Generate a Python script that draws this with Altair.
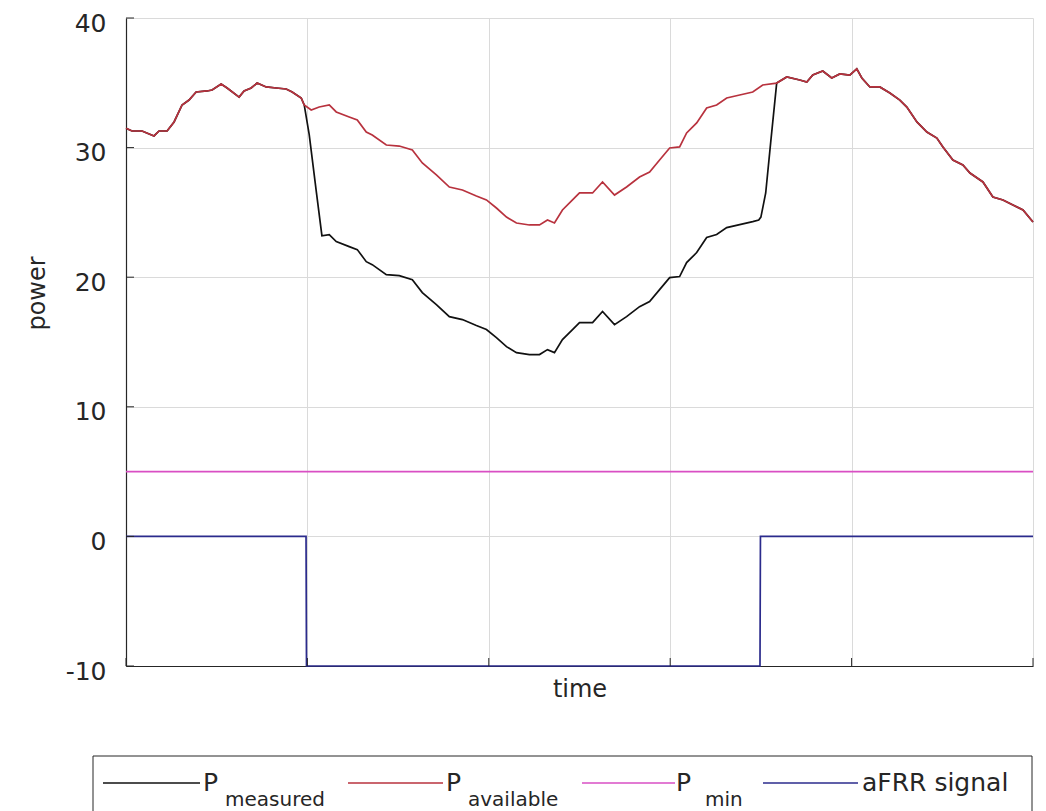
import altair as alt
import pandas as pd

# ---------------- data ----------------
time_avail = [0.0, 0.66, 1.77, 3.09, 3.64, 4.53, 5.30, 6.18, 6.95, 7.73, 8.94, 9.49, 10.49, 11.15,
              12.47, 13.02, 13.80, 14.46, 15.45, 16.56, 17.66, 18.32, 19.32, 19.65, 20.42, 21.30,
              22.41, 23.18, 24.61, 25.50, 26.49, 27.15, 28.70, 30.13, 31.57, 32.67, 34.22, 35.65,
              37.09, 38.63, 39.74, 40.84, 41.95, 43.05, 44.48, 45.59, 46.47, 47.24, 48.12, 49.23,
              50.00, 51.44, 52.54, 53.86, 55.19, 56.62, 57.73, 58.83, 59.94, 61.04, 61.81, 62.92,
              64.02, 65.12, 66.23, 67.66, 69.10, 70.20, 71.74, 72.85, 74.28, 75.06, 75.72, 76.82,
              77.81, 78.70, 79.80, 80.57, 81.13, 82.01, 83.11, 84.22, 85.32, 86.09, 87.20, 88.30,
              89.40, 90.07, 91.17, 92.27, 93.05, 94.48, 95.58, 96.69, 97.79, 98.90, 100.0]
p_available = [31.5, 31.28, 31.28, 30.90, 31.28, 31.28, 31.98, 33.29, 33.67, 34.29, 34.37, 34.44,
               34.91, 34.60, 33.90, 34.37, 34.60, 34.98, 34.68, 34.60, 34.52, 34.29, 33.83, 33.29,
               32.90, 33.13, 33.29, 32.75, 32.36, 32.13, 31.20, 30.97, 30.20, 30.12, 29.81, 28.81,
               27.89, 26.96, 26.73, 26.27, 25.96, 25.34, 24.64, 24.18, 24.03, 24.03, 24.41, 24.18,
               25.19, 25.96, 26.50, 26.50, 27.35, 26.34, 26.96, 27.73, 28.12, 29.04, 29.97, 30.05,
               31.13, 31.90, 33.06, 33.29, 33.83, 34.06, 34.29, 34.83, 34.98, 35.45, 35.22, 35.06,
               35.60, 35.91, 35.37, 35.68, 35.60, 36.07, 35.37, 34.68, 34.68, 34.21, 33.67, 33.13,
               31.98, 31.20, 30.74, 30.05, 29.04, 28.66, 28.04, 27.35, 26.19, 25.96, 25.57, 25.19,
               24.26]

time_meas = [0.0, 0.66, 1.77, 3.09, 3.64, 4.53, 5.30, 6.18, 6.95, 7.73, 8.94, 9.49, 10.49, 11.15,
             12.47, 13.02, 13.80, 14.46, 15.45, 16.56, 17.66, 18.32, 19.32, 19.65, 20.2, 21.0, 21.6,
             22.41, 23.18, 24.61, 25.50, 26.49, 27.15, 28.70, 30.13, 31.57, 32.67, 34.22, 35.65,
             37.09, 38.63, 39.74, 40.84, 41.95, 43.05, 44.48, 45.59, 46.47, 47.24, 48.12, 49.23,
             50.00, 51.44, 52.54, 53.86, 55.19, 56.62, 57.73, 58.83, 59.94, 61.04, 61.81, 62.92,
             64.02, 65.12, 66.23, 67.66, 69.10, 69.76, 70.0, 70.53, 71.08, 71.74, 72.85, 74.28,
             75.06, 75.72, 76.82, 77.81, 78.70, 79.80, 80.57, 81.13, 82.01, 83.11, 84.22, 85.32,
             86.09, 87.20, 88.30, 89.40, 90.07, 91.17, 92.27, 93.05, 94.48, 95.58, 96.69, 97.79,
             98.90, 100.0]
p_measured = [31.5, 31.28, 31.28, 30.90, 31.28, 31.28, 31.98, 33.29, 33.67, 34.29, 34.37, 34.44,
              34.91, 34.60, 33.90, 34.37, 34.60, 34.98, 34.68, 34.60, 34.52, 34.29, 33.83, 33.29,
              31.0, 26.5, 23.2, 23.29, 22.75, 22.36, 22.13, 21.20, 20.97, 20.20, 20.12, 19.81,
              18.81, 17.89, 16.96, 16.73, 16.27, 15.96, 15.34, 14.64, 14.18, 14.03, 14.03, 14.41,
              14.18, 15.19, 15.96, 16.50, 16.50, 17.35, 16.34, 16.96, 17.73, 18.12, 19.04, 19.97,
              20.05, 21.13, 21.90, 23.06, 23.29, 23.83, 24.06, 24.29, 24.41, 24.64, 26.5, 30.4,
              34.98, 35.45, 35.22, 35.06, 35.60, 35.91, 35.37, 35.68, 35.60, 36.07, 35.37, 34.68,
              34.68, 34.21, 33.67, 33.13, 31.98, 31.20, 30.74, 30.05, 29.04, 28.66, 28.04, 27.35,
              26.19, 25.96, 25.57, 25.19, 24.26]

time_min = [0, 100]
p_min = [5, 5]

time_afrr = [0, 19.85, 19.9, 69.9, 69.95, 100]
afrr_signal = [0, 0, -10, -10, 0, 0]

y_ticks = [-10, 0, 10, 20, 30, 40]
x_ticks = [0, 20, 40, 60, 80, 100]

legend_main = ["P", "P", "P", "aFRR signal"]
legend_sub = ["measured", "available", "min", ""]

# ---------------- styling ----------------
W, H = 907, 648
FONT = "DejaVu Sans"
TXT = "#262626"
GRID = "#dadada"
C_MEAS = "#111111"
C_AVAIL = "#b8323e"
C_MIN = "#d94fc4"
C_AFRR = "#2b2b8c"
series_colors = [C_MEAS, C_AVAIL, C_MIN, C_AFRR]

xscale = alt.Scale(domain=[0, 100], nice=False, zero=False)
yscale = alt.Scale(domain=[-10, 40], nice=False, zero=False)


def df(t, v):
    return pd.DataFrame({"t": t, "v": v})


x_axis = alt.Axis(values=x_ticks, labels=False, ticks=False, grid=True, title="time",
                  domain=True, domainColor=TXT, domainWidth=1.2,
                  gridColor=GRID, gridWidth=1,
                  titleFontSize=24, titleBaseline="alphabetic", titleY=30,
                  titleFont=FONT, titleFontWeight="normal", titleColor=TXT)
y_axis = alt.Axis(values=y_ticks, ticks=False, grid=True, labelPadding=20, labelFontSize=25,
                  labelExpr="'' + datum.value",
                  domain=True, domainColor=TXT, domainWidth=1.2,
                  gridColor=GRID, gridWidth=1,
                  labelFont=FONT, labelColor=TXT, labelFlush=False, labelOffset=5,
                  title="power", titleFontSize=24, titleFont=FONT, titleFontWeight="normal",
                  titleColor=TXT, titleAngle=270, titleBaseline="alphabetic", titleAlign="center",
                  titleX=-82, titleY=275)

X = alt.X("t:Q", scale=xscale, axis=x_axis, title="time")
Y = alt.Y("v:Q", scale=yscale, axis=y_axis, title="power")


def data_line(t, v, color):
    return alt.Chart(df(t, v)).mark_line(color=color, strokeWidth=1.7).encode(x=X, y=Y)


meas = data_line(time_meas, p_measured, C_MEAS)
avail = data_line(time_avail, p_available, C_AVAIL)
pmin = data_line(time_min, p_min, C_MIN)
afrr = data_line(time_afrr, afrr_signal, C_AFRR)

# inward ticks (MATLAB style)
yt = alt.Chart(pd.DataFrame({"v": y_ticks})).mark_rule(color=TXT, strokeWidth=1).encode(
    y=Y, x=alt.value(0), x2=alt.value(8))
xt = alt.Chart(pd.DataFrame({"t": x_ticks})).mark_rule(color=TXT, strokeWidth=1).encode(
    x=X, y=alt.value(H), y2=alt.value(H - 8))

# ---------------- legend box below the axes ----------------
one = pd.DataFrame({"k": [0]})
leg_layers = [
    alt.Chart(one).mark_rect(fill="white", stroke=TXT, strokeWidth=1).encode(
        x=alt.value(-33), x2=alt.value(906), y=alt.value(738), y2=alt.value(805))
]
LY = 765
line_x = [(-23, 74), (222, 317), (456, 549), (637, 732)]
main_x = [77, 320, 550, 736]
sub_x = [99, 342, 579, 0]
for i in range(4):
    x0, x1 = line_x[i]
    leg_layers.append(alt.Chart(one).mark_rule(color=series_colors[i], strokeWidth=1.5).encode(
        x=alt.value(x0), x2=alt.value(x1), y=alt.value(LY)))
    leg_layers.append(alt.Chart(pd.DataFrame({"s": [legend_main[i]]})).mark_text(
        align="left", baseline="alphabetic", font=FONT, fontSize=25, color=TXT).encode(
        x=alt.value(main_x[i]), y=alt.value(LY + 8), text="s:N"))
    if legend_sub[i]:
        leg_layers.append(alt.Chart(pd.DataFrame({"s": [legend_sub[i]]})).mark_text(
            align="left", baseline="alphabetic", font=FONT, fontSize=20, color=TXT).encode(
            x=alt.value(sub_x[i]), y=alt.value(LY + 23), text="s:N"))

chart = alt.layer(meas, avail, pmin, afrr, yt, xt, *leg_layers).properties(
    width=W, height=H,
    autosize=alt.AutoSizeParams(type="none"),
    padding={"left": 118, "top": 10, "right": 3, "bottom": 148},
).configure_view(stroke=None)

chart.save("out.html", embed_options={"renderer": "svg", "actions": False})
